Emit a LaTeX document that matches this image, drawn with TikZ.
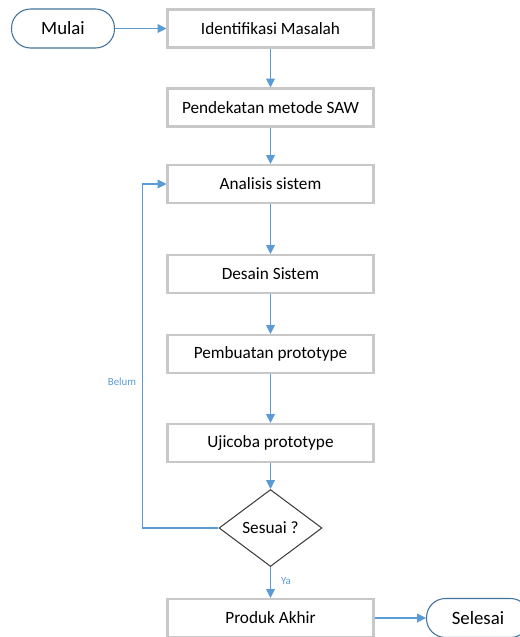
\documentclass[tikz,border=0pt]{standalone}
\usepackage{fontspec}
\setmainfont{Carlito}
\usetikzlibrary{shapes.geometric,arrows.meta}
\definecolor{garis}{HTML}{5B9BD5}
\definecolor{tepi}{HTML}{C8C8C8}
\definecolor{tepiujung}{HTML}{41719C}

\begin{document}
\begin{tikzpicture}[x=0.02cm,y=-0.02cm,
    kotak/.style={draw=tepi,line width=1.2pt,minimum width=4.12cm,minimum height=0.76cm,inner sep=0pt,font=\fontsize{9.8}{12}\selectfont},
    ujung/.style={draw=tepiujung,line width=0.6pt,rounded corners=0.38cm,minimum width=2.06cm,minimum height=0.78cm,inner sep=0pt,font=\fontsize{10.7}{13}\selectfont},
    cabang/.style={draw=black!75,line width=0.6pt,shape=diamond,minimum width=2.06cm,minimum height=1.54cm,inner sep=0pt,font=\fontsize{9.8}{12}\selectfont},
    panah/.style={draw=garis,line width=0.6pt,-{Triangle[width=5pt,length=5pt]}},
    ket/.style={text=garis,font=\fontsize{6.2}{7}\selectfont}]
  \useasboundingbox (0,0) rectangle (520,637);

  \node[ujung] (mulai) at (63,28.5) {Mulai};
  \node[kotak] (identifikasi) at (270.5,28.5) {Identifikasi Masalah};
  \node[kotak] (pendekatan) at (270.5,107.5) {Pendekatan metode SAW};
  \node[kotak] (analisis) at (270.5,184) {Analisis sistem};
  \node[kotak] (desain) at (270.5,274) {Desain Sistem};
  \node[kotak] (pembuatan) at (270.5,354) {Pembuatan prototype};
  \node[kotak] (ujicoba) at (270.5,443) {Ujicoba prototype};
  \node[cabang] (sesuai) at (270.5,528) {Sesuai ?};
  \node[kotak] (produk) at (270.5,618) {Produk Akhir};
  \node[ujung] (selesai) at (478,618) {Selesai};

  \draw[panah] (mulai) -- (identifikasi);
  \draw[panah] (identifikasi) -- (pendekatan);
  \draw[panah] (pendekatan) -- (analisis);
  \draw[panah] (analisis) -- (desain);
  \draw[panah] (desain) -- (pembuatan);
  \draw[panah] (pembuatan) -- (ujicoba);
  \draw[panah] (ujicoba) -- (sesuai);
  \draw[panah] (sesuai) -- (produk);
  \draw[panah] (produk) -- (selesai);
  \draw[panah] (sesuai.west) -- ++(-76,0) |- (analisis.west);

  \node[ket] (belum) at (122,382) {Belum};
  \node[ket] (ya) at (286,581) {Ya};
\end{tikzpicture}
\end{document}
